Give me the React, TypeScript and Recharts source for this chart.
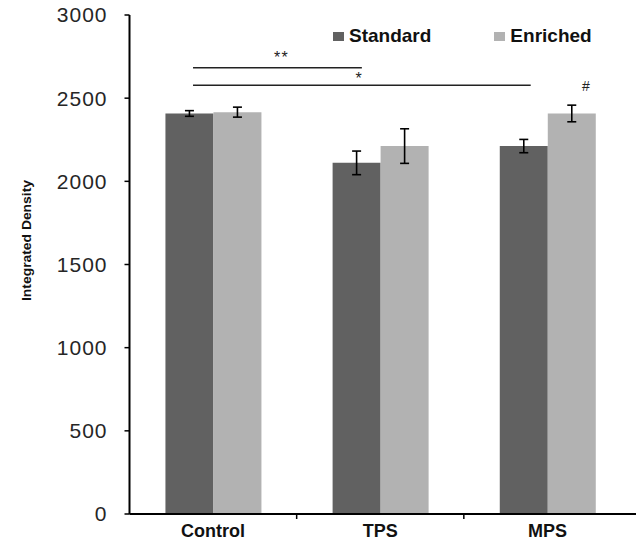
import React from 'react';
import {
  BarChart, Bar, XAxis, YAxis, ErrorBar, Legend, ReferenceLine, ReferenceDot,
} from 'recharts';

const categories = ['Control', 'TPS', 'MPS'];
const categoryCenters = [0.5, 1.5, 2.5];
const categoryBoundaries = [1, 2];
const standardValues = [2408, 2111, 2212];
const enrichedValues = [2416, 2212, 2408];
const standardErrors = [17, 71, 40];
const enrichedErrors = [30, 104, 50];
const yTicks = [0, 500, 1000, 1500, 2000, 2500, 3000];
const seriesOrder = ['Standard', 'Enriched'];

// significance brackets (x in category units, 0..3)
const bracketStarts = [0.38, 0.38];
const bracketEnds = [1.39, 2.4];
const bracketLevels = [2683, 2577];
const markTexts = ['**', '*', '#'];
const markX = [0.91, 1.37, 2.73];
const markY = [2745, 2621, 2573];

const data = categories.map((c, i) => ({
  name: c,
  pos: categoryCenters[i],
  Standard: standardValues[i],
  Enriched: enrichedValues[i],
  sErr: standardErrors[i],
  eErr: enrichedErrors[i],
}));

const DARK = '#616161';
const LIGHT = '#b2b2b2';
const FONT = 'Arial, "Liberation Sans", sans-serif';

const XTick = (props: any) => {
  const { x, y, payload } = props;
  return (
    <text x={x} y={y + 18} textAnchor="middle" fontFamily={FONT} fontWeight="bold" fontSize={18} fill="#111">
      {payload.value}
    </text>
  );
};

const YLabel = (props: any) => {
  const vb = props.viewBox || { x: 0, y: 15, width: 129, height: 499 };
  const cx = vb.x + 31;
  const cy = vb.y + vb.height / 2 - 24;
  return (
    <text
      x={cx}
      y={cy}
      transform={`rotate(-90 ${cx} ${cy})`}
      textAnchor="middle"
      fontFamily={FONT}
      fontWeight="bold"
      fontSize={13}
      fill="#111"
      textLength={121}
      lengthAdjust="spacingAndGlyphs"
    >
      Integrated Density
    </text>
  );
};

const LegendContent = (props: any) => {
  const payload = [...(props.payload || [])].sort(
    (a: any, b: any) => seriesOrder.indexOf(a.value) - seriesOrder.indexOf(b.value)
  );
  return (
    <div style={{ display: 'flex', alignItems: 'center', margin: 0, padding: 0 }}>
      {payload.map((p: any, i: number) => (
        <div key={p.value} style={{ display: 'flex', alignItems: 'center', marginRight: i === 0 ? 63 : 0 }}>
          <span style={{ display: 'inline-block', width: 11, height: 9, background: p.color, marginRight: 5, marginTop: 2 }} />
          <span style={{ fontFamily: FONT, fontWeight: 'bold', fontSize: 19, lineHeight: '19px', color: '#111' }}>{p.value}</span>
        </div>
      ))}
    </div>
  );
};

const MarkLabel = (text: string, size: number) => (props: any) => {
  const vb = props.viewBox || {};
  const x = (vb.x || 0) + (vb.width || 0) / 2;
  const y = (vb.y || 0) + (vb.height || 0) / 2;
  return (
    <text x={x} y={y} dy="0.35em" textAnchor="middle" fontFamily={FONT} fontSize={size} fill="#222" letterSpacing={text === '**' ? 1.5 : 0}>
      {text}
    </text>
  );
};

export default function App() {
  return (
    <div style={{ margin: '-8px 0 0 -8px', width: 644, height: 543 }}>
      <BarChart
        width={644}
        height={543}
        data={data}
        margin={{ top: 15, right: 0, bottom: 0, left: 0 }}
        barCategoryGap="21.5%"
        barGap={0}
      >
        <XAxis
          xAxisId="num"
          dataKey="pos"
          type="number"
          domain={[0, 3]}
          allowDataOverflow
          hide
          height={0}
          padding={{ left: 0, right: 13 }}
        />
        <XAxis
          xAxisId="cat"
          dataKey="name"
          type="category"
          height={29}
          padding={{ left: 0, right: 13 }}
          axisLine={{ stroke: '#000', strokeWidth: 2 }}
          tickLine={false}
          tickSize={5}
          tickMargin={0}
          tick={<XTick />}
          interval={0}
        />
        <YAxis
          width={129.5}
          domain={[0, 3000]}
          ticks={yTicks}
          interval={0}
          axisLine={{ stroke: '#000', strokeWidth: 2 }}
          tickLine={{ stroke: '#000', strokeWidth: 1.5 }}
          tickSize={5}
          tickMargin={17}
          tick={{ fontFamily: FONT, fontSize: 21, fill: '#262626', letterSpacing: 1 }}
          label={<YLabel />}
        />
        <Legend
          layout="horizontal"
          verticalAlign="middle"
          align="center"
          content={<LegendContent />}
          wrapperStyle={{ top: 26, left: 333, width: 300, margin: 0, padding: 0 }}
        />
        <Bar xAxisId="cat" dataKey="Standard" fill={DARK} isAnimationActive={false}>
          <ErrorBar dataKey="sErr" width={4.5} stroke="#000" strokeWidth={1.6} direction="y" />
        </Bar>
        <Bar xAxisId="cat" dataKey="Enriched" fill={LIGHT} isAnimationActive={false}>
          <ErrorBar dataKey="eErr" width={4.5} stroke="#000" strokeWidth={1.6} direction="y" />
        </Bar>
        {categoryBoundaries.map((b) => (
          <ReferenceLine
            key={'t' + b}
            xAxisId="num"
            segment={[{ x: b, y: 0 }, { x: b, y: -30 }]}
            stroke="#000"
            strokeWidth={1.5}
            ifOverflow="visible"
          />
        ))}
        {bracketLevels.map((lv, i) => (
          <ReferenceLine
            key={'b' + i}
            xAxisId="num"
            segment={[{ x: bracketStarts[i], y: lv }, { x: bracketEnds[i], y: lv }]}
            stroke="#222"
            strokeWidth={1.5}
            ifOverflow="visible"
          />
        ))}
        {markTexts.map((t, i) => (
          <ReferenceDot
            key={'m' + i}
            xAxisId="num"
            x={markX[i]}
            y={markY[i]}
            r={1}
            fill="none"
            stroke="none"
            ifOverflow="visible"
            label={MarkLabel(t, t === '#' ? 14 : 16)}
          />
        ))}
      </BarChart>
    </div>
  );
}
